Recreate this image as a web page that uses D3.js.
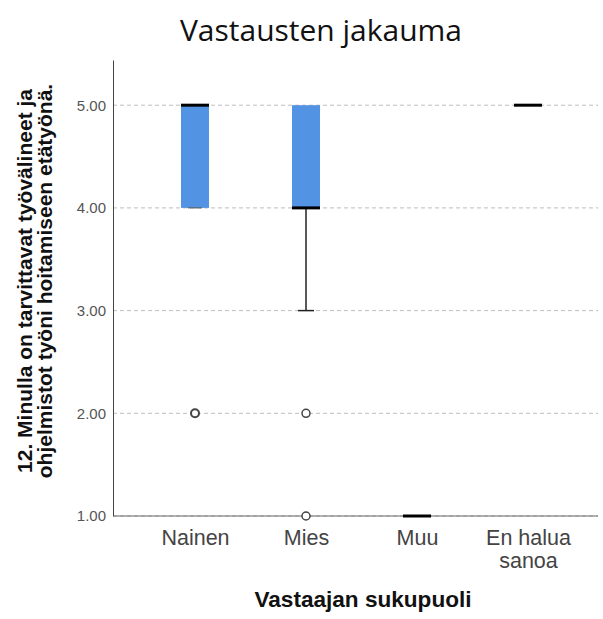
<!DOCTYPE html>
<html><head><meta charset="utf-8">
<script src="https://cdn.jsdelivr.net/npm/d3@7"></script>
<style>body{margin:0;background:#fff}svg{display:block}</style>
</head><body>
<script>
const categories = ["Nainen", "Mies", "Muu", "En halua sanoa"];
const q1 = [4, 4, 1, 5];
const median = [5, 4, 1, 5];
const q3 = [5, 5, 1, 5];
const whiskerLow = [4, 3, 1, 5];
const whiskerHigh = [5, 5, 1, 5];
const outliers = [[2], [2, 1], [], []];
const yTicks = [1, 2, 3, 4, 5];

const W = 603, H = 619;
const svg = d3.select("body").append("svg").attr("width", W).attr("height", H);

const x = d3.scalePoint().domain(categories).range([195, 528]);
const y = d3.scaleLinear().domain([1, 5.44]).range([516, 60]);
const boxW = 28;

// grid
svg.append("g").selectAll("line").data(yTicks).join("line")
  .attr("x1", 113).attr("x2", 598)
  .attr("y1", d => y(d)).attr("y2", d => y(d))
  .attr("stroke", "#bdbdbd").attr("stroke-width", 1).attr("stroke-dasharray", "4,3");

// y axis
const yAx = svg.append("g").attr("transform", "translate(113,0)")
  .call(d3.axisLeft(y).tickValues(yTicks).tickFormat(d3.format(".2f")).tickSize(0).tickPadding(7));
yAx.select(".domain").attr("stroke", "#444");
yAx.selectAll("text").attr("font-family", "Liberation Sans, Arial, sans-serif").attr("font-size", 15).attr("fill", "#555");

// x axis
const xAx = svg.append("g").attr("transform", "translate(0,516)")
  .call(d3.axisBottom(x).tickSize(0).tickPadding(0).tickFormat(""));
xAx.select(".domain").attr("d", "M113,0H598").attr("stroke", "#666");
xAx.selectAll(".tick").each(function(d) {
  const t = d3.select(this).select("text")
    .attr("font-family", "Liberation Sans, Arial, sans-serif").attr("font-size", 21.5).attr("fill", "#444")
    .attr("dy", null).attr("y", 29);
  const parts = d === "En halua sanoa" ? ["En halua", "sanoa"] : [d];
  parts.forEach((p, i) => t.append("tspan").attr("x", 0).attr("dy", i === 0 ? 0 : 23).text(p));
});

const g = svg.append("g");
categories.forEach((c, i) => {
  const cx = x(c);
  if (whiskerLow[i] < q1[i]) {
    g.append("line").attr("x1", cx).attr("x2", cx).attr("y1", y(q1[i])).attr("y2", y(whiskerLow[i])).attr("stroke", "#222").attr("stroke-width", 1.5);
    g.append("line").attr("x1", cx - 8).attr("x2", cx + 8).attr("y1", y(whiskerLow[i])).attr("y2", y(whiskerLow[i])).attr("stroke", "#222").attr("stroke-width", 1.5);
  }
  if (q3[i] > q1[i]) {
    g.append("rect").attr("x", cx - boxW / 2).attr("width", boxW)
      .attr("y", y(q3[i])).attr("height", y(q1[i]) - y(q3[i]))
      .attr("fill", "#5294e3");
    if (whiskerLow[i] === q1[i] && median[i] !== q1[i]) {
      g.append("line").attr("x1", cx - 7).attr("x2", cx + 7).attr("y1", y(q1[i])).attr("y2", y(q1[i])).attr("stroke", "#555").attr("stroke-width", 1);
    }
  }
  g.append("line").attr("x1", cx - boxW / 2).attr("x2", cx + boxW / 2)
    .attr("y1", y(median[i])).attr("y2", y(median[i])).attr("stroke", "#000").attr("stroke-width", 3);
  outliers[i].forEach(v => {
    g.append("circle").attr("cx", cx).attr("cy", y(v)).attr("r", 4)
      .attr("fill", "#fff").attr("stroke", "#444").attr("stroke-width", i === 0 ? 2 : 1.5);
  });
});

// title
svg.append("text").attr("x", 321).attr("y", 41).attr("text-anchor", "middle")
  .attr("font-family", "Open Sans, Noto Sans, sans-serif").attr("font-size", 29).attr("fill", "#111")
  .attr("textLength", 282).attr("lengthAdjust", "spacingAndGlyphs")
  .text("Vastausten jakauma");

// y title
const yt = svg.append("text").attr("transform", "translate(32,281) rotate(-90)")
  .attr("text-anchor", "middle").attr("font-family", "Liberation Sans, Arial, sans-serif")
  .attr("font-size", 21).attr("font-weight", "bold").attr("fill", "#111");
yt.append("tspan").attr("x", 0).attr("y", 0).text("12. Minulla on tarvittavat työvälineet ja");
yt.append("tspan").attr("x", 0).attr("y", 20).text("ohjelmistot työni hoitamiseen etätyönä.");

// x title
svg.append("text").attr("x", 363).attr("y", 607).attr("text-anchor", "middle")
  .attr("font-family", "Liberation Sans, Arial, sans-serif").attr("font-size", 22).attr("font-weight", "bold").attr("fill", "#111")
  .attr("textLength", 217).attr("lengthAdjust", "spacingAndGlyphs")
  .text("Vastaajan sukupuoli");
</script>
</body></html>
